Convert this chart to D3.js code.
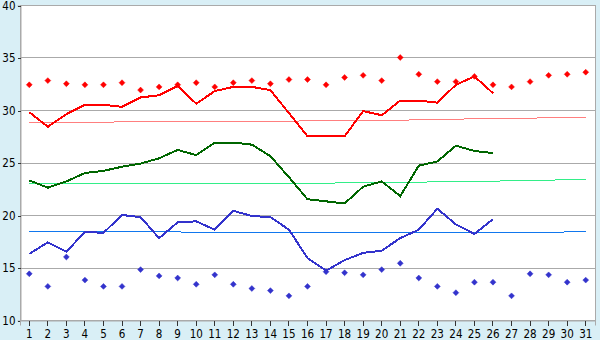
<!DOCTYPE html>
<html>
<head>
<meta charset="utf-8">
<script src="https://cdn.jsdelivr.net/npm/d3@7"></script>
<style>
  html, body { margin: 0; padding: 0; background: #d9eff6; }
  svg { display: block; font-family: "DejaVu Sans Condensed", "DejaVu Sans", Verdana, sans-serif; }
</style>
</head>
<body>
<div id="chart"></div>
<script>
var width = 600;
var height = 340;

// days of the month
var days = d3.range(1, 32);
var yTicks = [10, 15, 20, 25, 30, 35, 40];

// daily max (red diamonds) and daily min (blue diamonds), whole month
var maxPoints = [32.4, 32.8, 32.5, 32.4, 32.4, 32.6, 31.9, 32.2, 32.4, 32.6, 32.2, 32.6, 32.8, 32.5, 32.9, 32.9,
                 32.4, 33.1, 33.3, 32.8, 35.0, 33.4, 32.7, 32.7, 33.2, 32.4, 32.2, 32.7, 33.3, 33.4, 33.6];
var minPoints = [14.4, 13.2, 16.0, 13.8, 13.2, 13.2, 14.8, 14.2, 14.0, 13.4, 14.3, 13.4, 13.0, 12.8, 12.3, 13.2,
                 14.6, 14.5, 14.3, 14.8, 15.4, 14.0, 13.2, 12.6, 13.6, 13.6, 12.3, 14.4, 14.3, 13.6, 13.8];

// current month lines (day 1 to 26)
var maxLine = [29.8, 28.4, 29.6, 30.5, 30.5, 30.3, 31.2, 31.4, 32.3, 30.6, 31.8, 32.2, 32.2, 31.9, 29.7, 27.5,
               27.5, 27.5, 29.9, 29.5, 30.9, 30.9, 30.7, 32.4, 33.2, 31.6];
var avgLine = [23.3, 22.6, 23.2, 24.0, 24.2, 24.6, 24.9, 25.4, 26.2, 25.7, 26.9, 26.9, 26.7, 25.6, 23.6, 21.5,
               21.3, 21.1, 22.7, 23.2, 21.8, 24.7, 25.1, 26.6, 26.1, 25.9];
var minLine = [16.3, 17.4, 16.5, 18.4, 18.3, 20.0, 19.8, 17.8, 19.3, 19.4, 18.6, 20.4, 19.9, 19.8, 18.6, 15.9,
               14.7, 15.7, 16.4, 16.6, 17.8, 18.6, 20.6, 19.1, 18.2, 19.6];

// normals
var normMax = [28.8, 28.8, 28.8, 28.8, 28.8, 28.9, 28.9, 28.9, 28.9, 28.9, 28.9, 28.9, 28.9, 28.9, 28.9, 29.0,
               29.0, 29.0, 29.0, 29.0, 29.0, 29.1, 29.1, 29.1, 29.2, 29.2, 29.2, 29.2, 29.3, 29.3, 29.3];
var normAvg = [23.0, 23.0, 23.0, 23.0, 23.0, 23.0, 23.0, 23.0, 23.0, 23.0, 23.0, 23.0, 23.0, 23.0, 23.0, 23.0,
               23.0, 23.1, 23.1, 23.1, 23.1, 23.1, 23.2, 23.2, 23.2, 23.2, 23.3, 23.3, 23.3, 23.4, 23.4];
var normMin = [18.4, 18.4, 18.4, 18.4, 18.4, 18.4, 18.4, 18.4, 18.4, 18.3, 18.3, 18.3, 18.3, 18.3, 18.3, 18.3,
               18.3, 18.3, 18.3, 18.3, 18.3, 18.3, 18.3, 18.3, 18.3, 18.3, 18.3, 18.3, 18.3, 18.4, 18.4];

var plot = { left: 20, right: 595, top: 5, bottom: 320 };

var svg = d3.select("#chart").append("svg")
    .attr("width", width)
    .attr("height", height);

svg.append("rect") // light blue page background
    .attr("width", width).attr("height", height)
    .attr("fill", "#d9eff6");

var x = d3.scaleBand()
    .domain(days)
    .range([plot.left, plot.right]);

var y = d3.scaleLinear()
    .domain([10, 40])
    .range([plot.bottom, plot.top]);

function cx(i) { return x(days[i]) + x.bandwidth() / 2; }

// plot area
svg.append("rect")
    .attr("x", plot.left + 0.5).attr("y", plot.top + 0.5)
    .attr("width", plot.right - plot.left).attr("height", plot.bottom - plot.top)
    .attr("fill", "#ffffff")
    .attr("stroke", "#aaaaaa");

// horizontal grid
svg.append("g").selectAll("line")
    .data(yTicks.slice(1, -1))
    .enter().append("line")
    .attr("x1", plot.left).attr("x2", plot.right)
    .attr("y1", function(d) { return Math.round(y(d)) + 0.5; })
    .attr("y2", function(d) { return Math.round(y(d)) + 0.5; })
    .attr("stroke", "#aaaaaa")
    .attr("shape-rendering", "crispEdges");

// axes
var yAxis = svg.append("g")
    .attr("transform", "translate(" + (plot.left + 0.5) + ",0.5)")
    .call(d3.axisLeft(y).tickValues(yTicks).tickSize(3).tickPadding(2).tickFormat(d3.format("d")));

var xAxis = svg.append("g")
    .attr("transform", "translate(0," + (plot.bottom + 0.5) + ")")
    .call(d3.axisBottom(x).tickSize(5).tickPadding(4));

[yAxis, xAxis].forEach(function(a) {
    a.select(".domain").attr("stroke", "#aaaaaa");
    a.selectAll(".tick line").attr("stroke", "#333333").attr("shape-rendering", "crispEdges");
    a.selectAll("text").attr("font-size", 11.5)
        .attr("font-family", "DejaVu Sans Condensed, DejaVu Sans, Verdana, sans-serif")
        .attr("fill", "#000");
});

// lines
var line = d3.line()
    .x(function(d, i) { return cx(i); })
    .y(function(d) { return y(d); });

function drawLine(data, color, w) {
    svg.append("path")
        .datum(data)
        .attr("d", line)
        .attr("fill", "none")
        .attr("stroke", color)
        .attr("stroke-width", w)
        .attr("shape-rendering", "crispEdges");
}

drawLine(normMax, "#ff7f7f", 1);
drawLine(normAvg, "#33ee88", 1);
drawLine(normMin, "#1177ee", 1);

drawLine(maxLine, "#ff0000", 2);
drawLine(avgLine, "#006600", 2);
drawLine(minLine, "#3333cc", 2);

// diamonds (equal width and height)
var diamond = d3.symbol().type(d3.symbolDiamond2).size(22);

function drawPoints(data, color) {
    svg.append("g").selectAll("path")
        .data(data)
        .enter().append("path")
        .attr("d", diamond)
        .attr("transform", function(d, i) { return "translate(" + cx(i) + "," + y(d) + ")"; })
        .attr("fill", color)
        .attr("stroke", color)
        .attr("stroke-width", 0.5);
}

drawPoints(maxPoints, "#ff0000");
drawPoints(minPoints, "#3333cc");
</script>
</body>
</html>
